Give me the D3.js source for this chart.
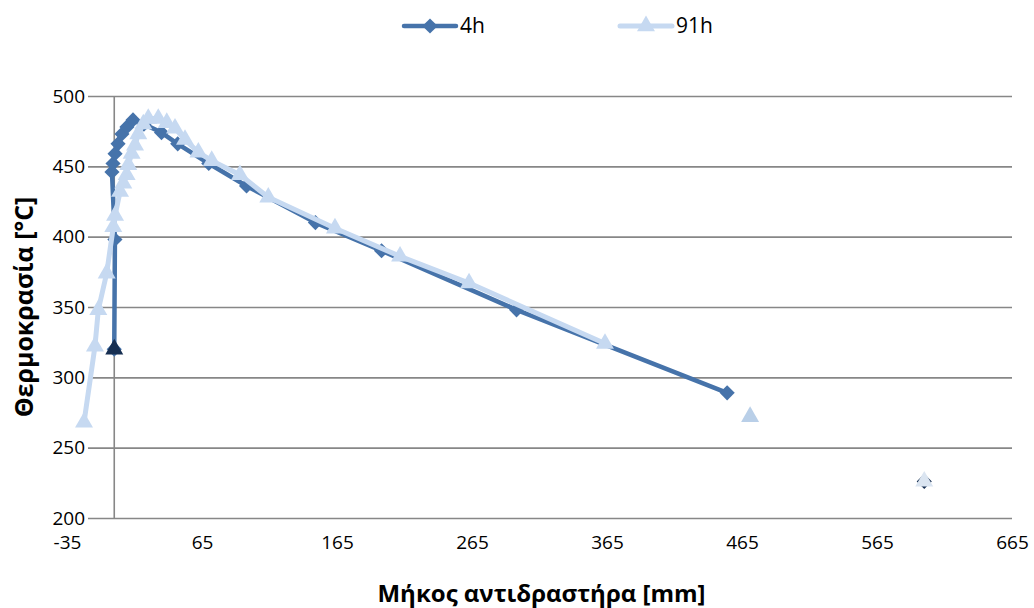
<!DOCTYPE html>
<html>
<head>
<meta charset="utf-8">
<script src="https://cdn.jsdelivr.net/npm/d3@7"></script>
<style>
  html, body { margin: 0; padding: 0; background: #fff; }
  svg { display: block; font-family: "Open Sans", "Noto Sans", sans-serif; }
</style>
</head>
<body>
<svg id="chart" width="1034" height="608"></svg>
<script>
// Reactor axial temperature profiles, position in mm, temperature in °C
const len4h  = [0, 0.5, -1.7, -0.9, 0.6, 2.8, 5.7, 9.4, 13.9, 22, 35, 47, 70, 98, 149, 198, 298, 454];
const temp4h = [320, 398, 446, 452, 459, 466, 473, 478, 483, 480, 474, 466, 452, 436, 410, 390, 348, 289];

const len91h  = [-22.4, -14.3, -11.8, -5.6, -0.7, 0.6, 4.3, 6.7, 9.2, 10.4, 12.9, 15.4, 17.8, 21.5, 25.2,
                 32.6, 38.9, 45, 52.4, 62.3, 72.2, 93.1, 114.1, 163.5, 211.7, 262.8, 363.5];
const temp91h = [268, 322, 348, 374, 407, 415, 432, 438, 444, 451, 459, 465, 473, 480, 484,
                 484, 481, 477, 469, 460, 454, 444, 428, 406, 386, 367, 324];

// Stand-alone readings not joined to the profiles
const loose91hLen = [471];
const loose91hTemp = [272];
const outletLen = [600];
const outletTemp = [226];
const inletLen = [0];
const inletTemp = [320];

const xTicks = [-35, 65, 165, 265, 365, 465, 565, 665];
const yTicks = [200, 250, 300, 350, 400, 450, 500];
const seriesNames = ["4h", "91h"];
const xTitle = "Μήκος αντιδραστήρα [mm]";
const yTitle = "Θερμοκρασία [°C]";

const C4 = "#4673aa", C91 = "#c6d9f1", NAVY = "#172f52", PALE = "#dbe5f1", LOOSE = "#b9cfe8";
const GRID = "#878787";

const svg = d3.select("#chart");
svg.append("rect").attr("width", 1034).attr("height", 608).attr("fill", "#fff");

const x = d3.scaleLinear().domain([-35, 665]).range([67, 1012]);
const y = d3.scaleLinear().domain([200, 500]).range([518, 96]);
const gridLeft = 88, gridRight = x(665);

// horizontal gridlines + y labels
const yAxis = d3.axisLeft(y).tickValues(yTicks).tickSize(-(gridRight - gridLeft)).tickPadding(3);
const gy = svg.append("g").attr("transform", `translate(${gridLeft},0)`).call(yAxis);
gy.select(".domain").remove();
gy.selectAll(".tick line").attr("stroke", GRID).attr("stroke-width", 1.6);
gy.selectAll(".tick text").attr("fill", "#000").style("font-size", "19px").style("font-family", "Open Sans");

// x labels (no tick marks), plain hyphen for negatives
const xAxis = d3.axisBottom(x).tickValues(xTicks).tickSize(0).tickPadding(18)
  .tickFormat(d => String(d));
const gx = svg.append("g").attr("transform", `translate(0,${y(200)})`).call(xAxis);
gx.select(".domain").remove();
gx.selectAll(".tick text").attr("fill", "#000").style("font-size", "19px").style("font-family", "Open Sans");

// vertical axis line at zero length
svg.append("line")
  .attr("x1", x(0)).attr("x2", x(0)).attr("y1", y(500)).attr("y2", y(200))
  .attr("stroke", GRID).attr("stroke-width", 1.6);

const diamond = d3.symbol().type(d3.symbolSquare).size(115);
const tri = d3.symbol().type(d3.symbolTriangle).size(140);

function drawSeries(xs, ys, color, width, sym, rot) {
  const pts = xs.map((v, i) => [v, ys[i]]);
  const line = d3.line().x(d => x(d[0])).y(d => y(d[1]));
  svg.append("path").datum(pts).attr("d", line)
    .attr("fill", "none").attr("stroke", color).attr("stroke-width", width)
    .attr("stroke-linejoin", "round").attr("stroke-linecap", "round");
  svg.append("g").selectAll("path").data(pts).join("path")
    .attr("d", sym)
    .attr("transform", d => `translate(${x(d[0])},${y(d[1])}) rotate(${rot})`)
    .attr("fill", color);
}

function drawPoints(xs, ys, color, sym, rot) {
  svg.append("g").selectAll("path").data(xs.map((v, i) => [v, ys[i]])).join("path")
    .attr("d", sym)
    .attr("transform", d => `translate(${x(d[0])},${y(d[1])}) rotate(${rot})`)
    .attr("fill", color);
}

drawSeries(len4h, temp4h, C4, 4.5, diamond, 45);
drawSeries(len91h, temp91h, C91, 5, tri, 0);
drawPoints(loose91hLen, loose91hTemp, LOOSE, tri, 0);
drawPoints(outletLen, outletTemp, NAVY, diamond, 45);
drawPoints(outletLen, outletTemp, PALE, tri, 0);
drawPoints(inletLen, inletTemp, NAVY, tri, 0);

// axis titles
svg.append("text").attr("x", (x(-35) + x(665)) / 2 + 2).attr("y", 602)
  .attr("text-anchor", "middle").style("font-weight", "bold").style("font-size", "24px")
  .text(xTitle);
svg.append("text").attr("transform", `translate(33,${(y(500) + y(200)) / 2}) rotate(-90)`)
  .attr("text-anchor", "middle").style("font-weight", "bold").style("font-size", "25px")
  .text(yTitle);

// legend
const legend = [
  { name: seriesNames[0], color: C4, sym: diamond, rot: 45, lx: 404, w: 4.5 },
  { name: seriesNames[1], color: C91, sym: tri, rot: 0, lx: 620, w: 5 }
];
const lg = svg.append("g");
legend.forEach(d => {
  lg.append("line").attr("x1", d.lx).attr("x2", d.lx + 52).attr("y1", 26).attr("y2", 26)
    .attr("stroke", d.color).attr("stroke-width", d.w).attr("stroke-linecap", "round");
  lg.append("path").attr("d", d.sym).attr("transform", `translate(${d.lx + 26},26) rotate(${d.rot})`)
    .attr("fill", d.color);
  lg.append("text").attr("x", d.lx + 56).attr("y", 33).style("font-size", "21px").text(d.name);
});
</script>
</body>
</html>
